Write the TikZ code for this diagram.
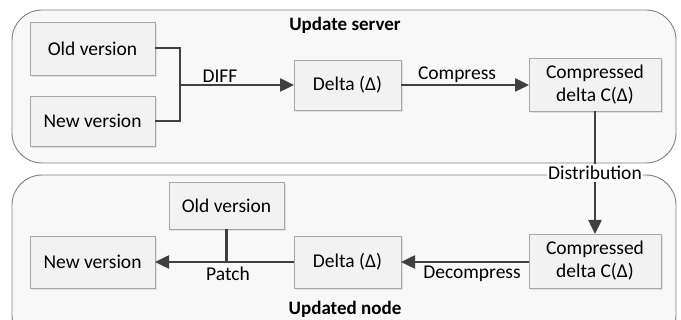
\documentclass[tikz,border=0pt]{standalone}
\usepackage{fontspec}
\setmainfont{Carlito}
\usetikzlibrary{arrows.meta}
\definecolor{linec}{HTML}{404040}
\definecolor{boxfill}{HTML}{F2F2F2}
\definecolor{boxline}{HTML}{A6A6A6}
\definecolor{contfill}{HTML}{F8F8F8}
\definecolor{contline}{HTML}{808080}
\tikzset{
  cont/.style={draw=contline, fill=contfill, rounded corners=30pt, line width=0.9pt},
  box/.style={draw=boxline, fill=boxfill, line width=0.9pt},
  shad/.style={fill=black!12},
  conn/.style={draw=linec, line width=2.5pt},
  arr/.style={conn, -{Triangle[length=14pt,width=13pt]}},
  lbl/.style={font=\fontsize{19.5}{23}\selectfont, inner sep=0pt, align=center},
  ttl/.style={font=\fontsize{19}{23}\selectfont\bfseries, inner sep=0pt}
}
\begin{document}
\begin{tikzpicture}[x=1pt,y=-1pt]
\useasboundingbox (0,0) rectangle (681,320);
\begin{scope}
\clip (0,0) rectangle (681,320);
% containers
\draw[cont] (12,10) rectangle (676,163);
\draw[cont] (12,175) rectangle (676,345);
% shadows
\foreach \a/\b/\c/\d in {30/22/155/75, 30/96/155/146, 294/60/401/110, 529/58/661/111,
  529/234/661/288, 294/236/401/288, 30/236/155/288, 169/182/284/229}
  {\fill[shad] (\a+2,\b+2) rectangle (\c+2,\d+2);}
% boxes
\draw[box] (30,22) rectangle (155,75) node[midway,lbl] (oldA) {Old version};
\draw[box] (30,96) rectangle (155,146) node[midway,lbl] (newA) {New version};
\draw[box] (294,60) rectangle (401,110) node[midway,lbl] (deltaA) {Delta (Δ)};
\draw[box] (529,58) rectangle (661,111) node[midway,lbl] (cdeltaA) {Compressed\\delta C(Δ)};
\draw[box] (529,234) rectangle (661,288) node[midway,lbl] (cdeltaB) {Compressed\\delta C(Δ)};
\draw[box] (294,236) rectangle (401,288) node[midway,lbl] (deltaB) {Delta (Δ)};
\draw[box] (30,236) rectangle (155,288) node[midway,lbl] (newB) {New version};
\draw[box] (169,182) rectangle (284,229) node[midway,lbl] (oldB) {Old version};
% anchor coordinates
\coordinate (oldAr) at (155,48);
\coordinate (newAr) at (155,121);
\coordinate (join) at (180,85);
\coordinate (deltaAl) at (294,85);
\coordinate (deltaAr) at (401,85);
\coordinate (cdeltaAl) at (529,85);
\coordinate (cdeltaAb) at (595,111);
\coordinate (cdeltaBt) at (595,234);
\coordinate (cdeltaBl) at (529,262);
\coordinate (deltaBr) at (401,262);
\coordinate (deltaBl) at (294,262);
\coordinate (newBr) at (155,262);
\coordinate (oldBb) at (226.5,229);
\coordinate (patchj) at (226.5,262);
% connectors
\draw[conn] (oldAr) -| (join);
\draw[conn] (newAr) -| (join);
\draw[arr] (join) -- (deltaAl);
\draw[arr] (deltaAr) -- (cdeltaAl);
\draw[arr] (cdeltaAb) -- (cdeltaBt);
\draw[arr] (cdeltaBl) -- (deltaBr);
\draw[arr] (deltaBl) -- (newBr);
\draw[conn] (oldBb) -- (patchj);
% labels
\node[lbl] (diff) at (220,76) {DIFF};
\node[lbl] (compress) at (457,75) {Compress};
\node[lbl, fill=white, inner xsep=1pt, inner ysep=2pt] (distr) at (595,173) {Distribution};
\node[lbl] (patch) at (228,274) {Patch};
\node[lbl] (decompress) at (472,274) {Decompress};
\node[ttl] (tA) at (345,25) {Update server};
\node[ttl] (tB) at (345,309) {Updated node};
\end{scope}
\end{tikzpicture}
\end{document}
